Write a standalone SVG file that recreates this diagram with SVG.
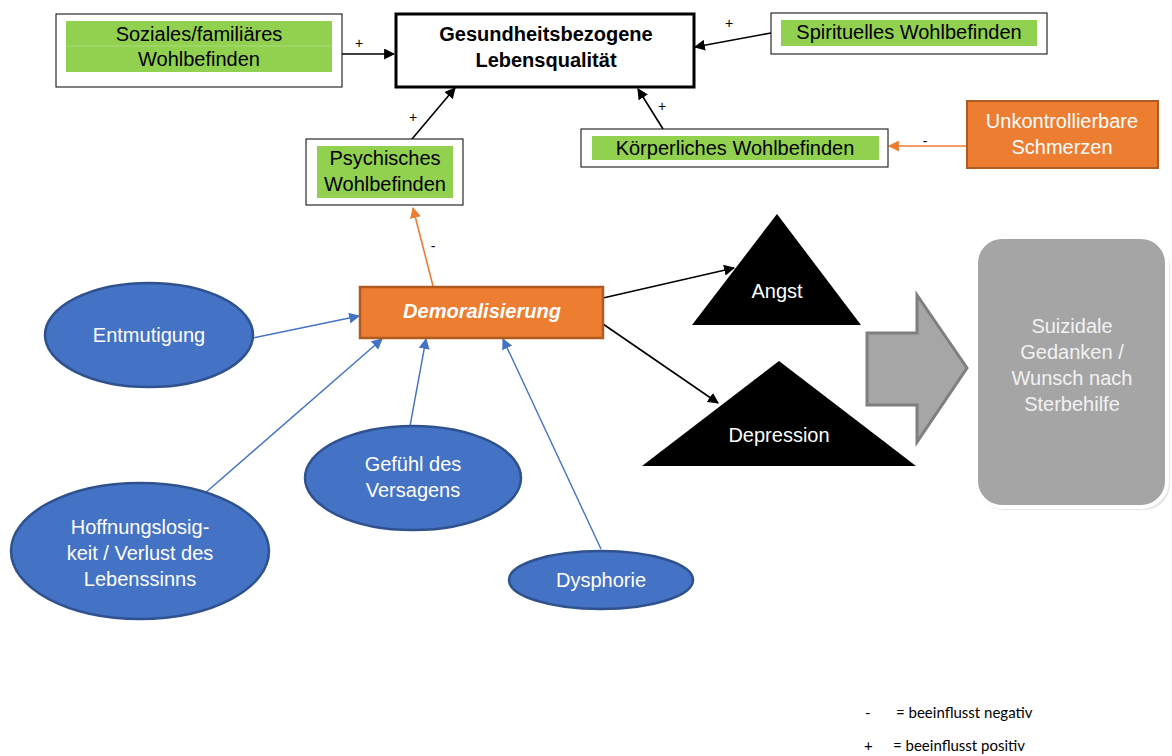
<svg xmlns="http://www.w3.org/2000/svg" width="1172" height="756" viewBox="0 0 1172 756">
<style>
text{font-family:"Liberation Sans",Arial,sans-serif;font-size:20px;text-anchor:middle;}
.box{fill:#fff;stroke:#000;stroke-width:1;}
.green{fill:#92D050;}
.dark{fill:#000;}
.white{fill:#fff;}
.blk{stroke:#000;stroke-width:1.6;fill:none;}
.org{stroke:#ED7D31;stroke-width:1.6;fill:none;}
.blu{stroke:#4472C4;stroke-width:1.4;fill:none;}
.ell{fill:#4472C4;stroke:#2F528F;stroke-width:2.5;}
.sm{font-size:14px;fill:#000;}
.leg{font-family:Lato,"Liberation Sans",sans-serif;font-size:15px;text-anchor:start;fill:#000;}
</style>
<defs>
<marker id="ab" viewBox="0 0 10 10" refX="9" refY="5" markerWidth="11" markerHeight="11" markerUnits="userSpaceOnUse" orient="auto"><path d="M0,0L10,5L0,10z" fill="#000"/></marker>
<marker id="ao" viewBox="0 0 10 10" refX="9" refY="5" markerWidth="11" markerHeight="11" markerUnits="userSpaceOnUse" orient="auto"><path d="M0,0L10,5L0,10z" fill="#ED7D31"/></marker>
<marker id="au" viewBox="0 0 10 10" refX="9" refY="5" markerWidth="11" markerHeight="11" markerUnits="userSpaceOnUse" orient="auto"><path d="M0,0L10,5L0,10z" fill="#4472C4"/></marker>
</defs>
<rect width="1172" height="756" fill="#fff"/>

<g id="connectors">
<line class="blk" x1="342" y1="54" x2="394" y2="54" marker-end="url(#ab)"/>
<line class="blk" x1="771" y1="33" x2="695" y2="47" marker-end="url(#ab)"/>
<line class="blk" x1="663" y1="129" x2="638" y2="89" marker-end="url(#ab)"/>
<line class="blk" x1="412" y1="139" x2="455" y2="88" marker-end="url(#ab)"/>
<line class="org" x1="966" y1="146" x2="889" y2="146" marker-end="url(#ao)"/>
<line class="org" x1="433" y1="286" x2="413" y2="208" marker-end="url(#ao)"/>
<line class="blk" x1="603" y1="298" x2="734" y2="268" marker-end="url(#ab)"/>
<line class="blk" x1="603" y1="324" x2="718" y2="403" marker-end="url(#ab)"/>
<line class="blu" x1="253" y1="338" x2="359" y2="316" marker-end="url(#au)"/>
<line class="blu" x1="204" y1="494" x2="382" y2="339" marker-end="url(#au)"/>
<line class="blu" x1="410" y1="426" x2="426" y2="339" marker-end="url(#au)"/>
<line class="blu" x1="601" y1="549" x2="503" y2="339" marker-end="url(#au)"/>
<text class="sm" x="359" y="48">+</text>
<text class="sm" x="729" y="28">+</text>
<text class="sm" x="662" y="111">+</text>
<text class="sm" x="413" y="122">+</text>
<text class="sm" x="925" y="146">-</text>
<text class="sm" x="433" y="251">-</text>
</g>

<g id="soziales">
<rect class="box" x="56" y="14" width="286" height="73"/>
<rect class="green" x="66" y="21" width="266" height="51"/>
<line x1="66" y1="46" x2="332" y2="46" stroke="#A9DC78" stroke-width="1"/>
<text x="199" y="41">Soziales/familiäres</text>
<text x="199" y="66">Wohlbefinden</text>
</g>

<g id="lebensqualitaet">
<rect x="396" y="14" width="298" height="73" fill="#fff" stroke="#000" stroke-width="3"/>
<text x="546" y="41" font-size="21" font-weight="bold">Gesundheitsbezogene</text>
<text x="546" y="67" font-size="21" font-weight="bold">Lebensqualität</text>
</g>

<g id="spirituelles">
<rect class="box" x="771" y="13" width="276" height="41"/>
<rect class="green" x="781" y="20" width="256" height="26"/>
<text x="909" y="39">Spirituelles Wohlbefinden</text>
</g>

<g id="koerperliches">
<rect class="box" x="581" y="129" width="307" height="38"/>
<rect class="green" x="592" y="136" width="287" height="24"/>
<text x="735" y="155">Körperliches Wohlbefinden</text>
</g>

<g id="schmerzen">
<rect x="967" y="101" width="191" height="67" fill="#ED7D31" stroke="#AE5A21" stroke-width="2"/>
<text class="white" x="1062" y="128">Unkontrollierbare</text>
<text class="white" x="1062" y="154">Schmerzen</text>
</g>

<g id="psychisches">
<rect class="box" x="306" y="139" width="157" height="66"/>
<rect class="green" x="317" y="146" width="136" height="52"/>
<text x="385" y="165">Psychisches</text>
<text x="385" y="191">Wohlbefinden</text>
</g>

<g id="demoralisierung">
<rect x="360" y="287" width="243" height="51" fill="#ED7D31" stroke="#AE5A21" stroke-width="2.5"/>
<text class="white" x="482" y="318" font-size="24" font-weight="bold" font-style="italic">Demoralisierung</text>
</g>

<g id="angst">
<polygon class="dark" points="777,214 861,325 692,325"/>
<text class="white" x="777" y="298">Angst</text>
</g>

<g id="depression">
<polygon class="dark" points="779,361 916,466 642,466"/>
<text class="white" x="779" y="442">Depression</text>
</g>

<g id="blockpfeil">
<polygon points="867,333 917,333 917,295 967,368 917,442 917,405 867,405" fill="#A6A6A6" stroke="#7F7F7F" stroke-width="3"/>
</g>

<g id="suizidal">
<rect x="977" y="240" width="193" height="270" rx="26" fill="#E6E6E6"/>
<rect x="976" y="237" width="191" height="270" rx="26" fill="#A5A5A5" stroke="#fff" stroke-width="4"/>
<text x="1072" y="333" fill="#F2F2F2">Suizidale</text>
<text x="1072" y="359" fill="#F2F2F2">Gedanken /</text>
<text x="1072" y="385" fill="#F2F2F2">Wunsch nach</text>
<text x="1072" y="411" fill="#F2F2F2">Sterbehilfe</text>
</g>

<g id="entmutigung">
<ellipse class="ell" cx="149" cy="335" rx="104" ry="52"/>
<text class="white" x="149" y="342">Entmutigung</text>
</g>

<g id="hoffnungslosigkeit">
<ellipse class="ell" cx="140" cy="551" rx="129" ry="68"/>
<text class="white" x="140" y="534">Hoffnungslosig-</text>
<text class="white" x="140" y="560">keit / Verlust des</text>
<text class="white" x="140" y="586">Lebenssinns</text>
</g>

<g id="gefuehl">
<ellipse class="ell" cx="413" cy="478" rx="108" ry="52"/>
<text class="white" x="413" y="471">Gefühl des</text>
<text class="white" x="413" y="497">Versagens</text>
</g>

<g id="dysphorie">
<ellipse class="ell" cx="601" cy="580" rx="92" ry="29"/>
<text class="white" x="601" y="587">Dysphorie</text>
</g>

<g id="legende">
<text class="leg" x="865" y="718">-</text>
<text class="leg" x="896" y="718">= beeinflusst negativ</text>
<text class="leg" x="864" y="751">+</text>
<text class="leg" x="893" y="751">= beeinflusst positiv</text>
</g>
</svg>
